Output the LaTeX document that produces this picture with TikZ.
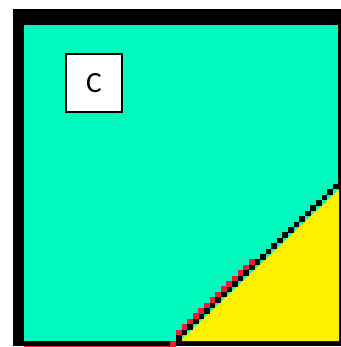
\documentclass[tikz,border=0pt]{standalone}
\usepackage{fontspec}
\setmainfont{Carlito}
\definecolor{teal1}{RGB}{0,250,190}
\definecolor{yel}{RGB}{255,240,0}
\definecolor{redd}{RGB}{237,28,48}
\begin{document}
\begin{tikzpicture}[x=0.75pt,y=-0.75pt,
  boxC/.style={draw=black,line width=0.9pt,fill=white,minimum width=56*0.75pt,minimum height=58*0.75pt,inner sep=0pt,font=\fontsize{22}{24}\selectfont}]
\useasboundingbox (0,0) rectangle (341,347);
\fill[white] (0,0) rectangle (341,347);
\fill[black] (13,9) rectangle (341,346);
\fill[teal1] (24,25) rectangle (338,341);
\fill[redd] (24,345.5) rectangle (172,347);
\fill[yel] (180,341) -- (339,189) -- (339,341) -- cycle;
\foreach \i in {0,...,28} {
  \fill[black] ({176+\i*5.6},{335-\i*5.4}) rectangle ++(5.8,5.6);
}
\fill[redd] (170,341) rectangle ++(5.8,5.6);
\foreach \i in {0,...,13} {
  \fill[redd] ({176+\i*5.6},{329.6-\i*5.4}) rectangle ++(5.8,5.6);
}
\node[boxC] (c) at (94,83) {C};
\end{tikzpicture}
\end{document}
